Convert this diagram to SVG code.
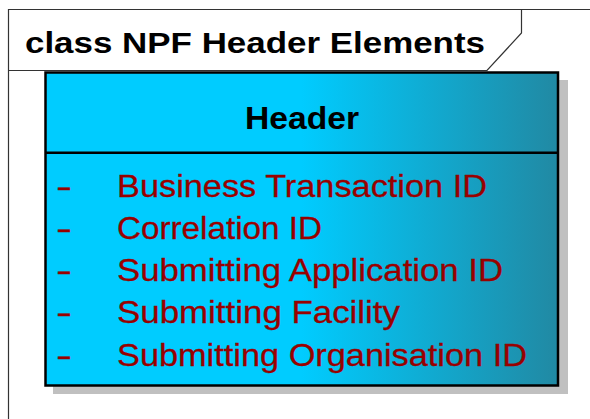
<svg xmlns="http://www.w3.org/2000/svg" width="590" height="419" viewBox="0 0 590 419">
  <defs>
    <linearGradient id="fill" gradientUnits="userSpaceOnUse" x1="45" y1="0" x2="558" y2="0">
      <stop offset="0" stop-color="#00ccff"/>
      <stop offset="0.5" stop-color="#00ccff"/>
      <stop offset="1" stop-color="#2189a3"/>
    </linearGradient>
  </defs>
  <style>
    .frame { fill: none; stroke: #333333; stroke-width: 1.2; }
    .title { font-family: "Liberation Sans", Arial, sans-serif; font-weight: bold; font-size: 30px; fill: #000000; }
    .cname { font-family: "Liberation Sans", Arial, sans-serif; font-weight: bold; font-size: 30.5px; fill: #000000; }
    .attr { font-family: "Liberation Sans", Arial, sans-serif; font-size: 31.5px; fill: #990000; stroke: #990000; stroke-width: 0.3; }
  </style>
  <rect width="590" height="419" fill="#ffffff"/>
  <g id="frame">
    <path class="frame" d="M8.5,419 V9.5 H590"/>
    <path class="frame" d="M8.5,70.5 H487 L521.5,33 V9.5"/>
    <text class="title" x="25" y="52.5" textLength="460" lengthAdjust="spacingAndGlyphs">class NPF Header Elements</text>
  </g>
  <g id="header">
    <rect x="53" y="80" width="515" height="314" fill="#c0c0c0"/>
    <rect x="45.5" y="72.5" width="512.5" height="313" fill="url(#fill)" stroke="#000000" stroke-width="2.5"/>
    <line x1="45.5" y1="152.7" x2="558" y2="152.7" stroke="#000000" stroke-width="2.5"/>
    <text class="cname" x="245" y="129.3" textLength="114" lengthAdjust="spacingAndGlyphs">Header</text>
    <g class="attr">
      <text x="56" y="196.7" textLength="16" lengthAdjust="spacingAndGlyphs">-</text>
      <text x="117" y="196.7" textLength="370" lengthAdjust="spacingAndGlyphs">Business Transaction ID</text>
      <text x="56" y="238.9" textLength="16" lengthAdjust="spacingAndGlyphs">-</text>
      <text x="117" y="238.9" textLength="205" lengthAdjust="spacingAndGlyphs">Correlation ID</text>
      <text x="56" y="281.1" textLength="16" lengthAdjust="spacingAndGlyphs">-</text>
      <text x="117" y="281.1" textLength="386" lengthAdjust="spacingAndGlyphs">Submitting Application ID</text>
      <text x="56" y="323.3" textLength="16" lengthAdjust="spacingAndGlyphs">-</text>
      <text x="117" y="323.3" textLength="283" lengthAdjust="spacingAndGlyphs">Submitting Facility</text>
      <text x="56" y="365.5" textLength="16" lengthAdjust="spacingAndGlyphs">-</text>
      <text x="117" y="365.5" textLength="410" lengthAdjust="spacingAndGlyphs">Submitting Organisation ID</text>
    </g>
  </g>
</svg>
